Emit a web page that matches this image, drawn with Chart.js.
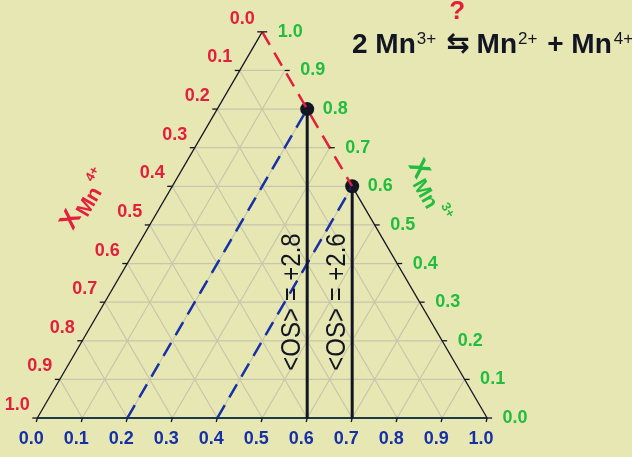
<!DOCTYPE html>
<html>
<head>
<meta charset="utf-8">
<script src="https://cdn.jsdelivr.net/npm/chart.js@4.4.0/dist/chart.umd.min.js"></script>
<style>
html, body { margin: 0; padding: 0; background: #e7e7b3; }
#c { display: block; background: #e7e7b3; }
</style>
</head>
<body>
<canvas id="c" width="632" height="457"></canvas>
<script>
// ternary points are [Mn2+, Mn3+, Mn4+]
const gridSteps = [0.1, 0.2, 0.3, 0.4, 0.5, 0.6, 0.7, 0.8, 0.9];
const tickValues = [0, 0.1, 0.2, 0.3, 0.4, 0.5, 0.6, 0.7, 0.8, 0.9, 1.0];
const tickLabels = ['0.0', '0.1', '0.2', '0.3', '0.4', '0.5', '0.6', '0.7', '0.8', '0.9', '1.0'];

const dotPoints = [[0.2, 0.8, 0], [0.4, 0.6, 0]];
const redDashLine = [[0, 1, 0], [0.4, 0.6, 0]];
const blueDashLines = [
    [[0.2, 0, 0.8], [0.2, 0.8, 0]],
    [[0.4, 0, 0.6], [0.4, 0.6, 0]]
];
const osLines = [
    [[0.2, 0.8, 0], [0.6, 0, 0.4]],
    [[0.4, 0.6, 0], [0.7, 0, 0.3]]
];
const osLabels = ['<OS> = +2.8', '<OS> = +2.6'];
const edges = [
    [[0, 0, 1], [0, 1, 0]],
    [[0.4, 0.6, 0], [1, 0, 0]]
];
const baseEdge = [[0, 0, 1], [1, 0, 0]];

const RED = '#e2203c', GREEN = '#22bd3e', BLUE = '#1630a6', INK = '#121622';
const SQ = Math.sqrt(3) / 2;

function tern(p) {
    return { x: p[0] + p[1] / 2, y: p[1] * SQ };
}

function seg(pts, color, width, dash, order) {
    return {
        data: pts.map(tern),
        showLine: true,
        pointRadius: 0,
        borderColor: color,
        borderWidth: width,
        borderDash: dash || [],
        fill: false,
        order: order
    };
}

let datasets = [];
//grid
for (const k of gridSteps) {
    datasets.push(seg([[0, k, 1 - k], [1 - k, k, 0]], '#c6c6ac', 1.2, null, 20));
    datasets.push(seg([[k, 0, 1 - k], [k, 1 - k, 0]], '#c6c6ac', 1.2, null, 20));
    datasets.push(seg([[1 - k, 0, k], [0, 1 - k, k]], '#c6c6ac', 1.2, null, 20));
}
//edges
for (const e of edges) datasets.push(seg(e, INK, 1.3, null, 15));
datasets.push(seg(baseEdge, '#1c3a48', 2, null, 15));
//dots
datasets.push({
    data: dotPoints.map(tern),
    pointRadius: 7,
    pointBackgroundColor: INK,
    pointBorderWidth: 0,
    showLine: false,
    order: 12
});
//dashed lines
datasets.push(seg(redDashLine, RED, 2.5, [15, 9], 5));
for (const l of blueDashLines) datasets.push(seg(l, BLUE, 2.5, [15, 9], 5));
//constant OS lines
for (const l of osLines) datasets.push(seg(l, INK, 3, null, 4));

const labelsPlugin = {
    id: 'ternLabels',
    afterDatasetsDraw(chart) {
        const ctx = chart.ctx;
        const sx = chart.scales.x, sy = chart.scales.y;
        function px(p) {
            const q = tern(p);
            return [sx.getPixelForValue(q.x), sy.getPixelForValue(q.y)];
        }
        ctx.save();
        ctx.lineWidth = 1.3;
        ctx.strokeStyle = INK;
        ctx.font = "bold 18px 'Liberation Sans', Arial, sans-serif";
        ctx.textAlign = 'center';
        ctx.textBaseline = 'middle';
        tickValues.forEach((v, i) => {
            // left axis, Mn4+
            let [a, b] = px([0, 1 - v, v]);
            ctx.beginPath(); ctx.moveTo(a, b); ctx.lineTo(a - 5, b); ctx.stroke();
            ctx.fillStyle = RED;
            ctx.fillText(tickLabels[i], a - 20, b - 13);
            // right axis, Mn3+
            [a, b] = px([1 - v, v, 0]);
            ctx.beginPath(); ctx.moveTo(a, b); ctx.lineTo(a + 5, b); ctx.stroke();
            ctx.fillStyle = GREEN;
            ctx.fillText(tickLabels[i], a + 28, b);
            // bottom axis, Mn2+
            [a, b] = px([v, 0, 1 - v]);
            ctx.beginPath(); ctx.moveTo(a, b); ctx.lineTo(a - 1, b + 4); ctx.stroke();
            ctx.fillStyle = BLUE;
            ctx.fillText(tickLabels[i], a - 6, b + 21);
        });

        // OS labels along vertical lines
        ctx.fillStyle = INK;
        ctx.font = "24px 'Liberation Sans', Arial, sans-serif";
        osLines.forEach((l, i) => {
            const [a] = px(l[1]);
            ctx.save();
            ctx.translate(a - 15, 302);
            ctx.rotate(-Math.PI / 2);
            ctx.scale(1, 1.15);
            ctx.fillText(osLabels[i], 0, 0);
            ctx.restore();
        });

        // axis titles
        ctx.textAlign = 'left';
        ctx.textBaseline = 'alphabetic';
        function axisTitle(x0, y0, ang, color, sup) {
            ctx.save();
            ctx.translate(x0, y0);
            ctx.rotate(ang);
            ctx.fillStyle = color;
            ctx.font = "bold 26px 'Liberation Sans', Arial, sans-serif";
            ctx.fillText('X', 0, 0);
            let w = ctx.measureText('X').width + 1;
            ctx.font = "bold 21px 'Liberation Sans', Arial, sans-serif";
            ctx.fillText('Mn', w, 6);
            w += ctx.measureText('Mn').width + 3;
            ctx.font = "bold 13px 'Liberation Sans', Arial, sans-serif";
            ctx.fillText(sup, w, -8);
            ctx.restore();
        }
        axisTitle(73, 231, -Math.PI / 3, RED, '4+');
        axisTitle(408, 165, Math.PI / 3, GREEN, '3+');

        // reaction title
        const big = "bold 28px 'Liberation Sans', Arial, sans-serif";
        const small = "17px 'Liberation Sans', Arial, sans-serif";
        let x = 352;
        const base = 53;
        ctx.fillStyle = INK;
        ctx.font = big; ctx.fillText('2 Mn', x, base); x += ctx.measureText('2 Mn').width + 1;
        ctx.font = small; ctx.fillText('3+', x, base - 9); x += ctx.measureText('3+').width + 10;
        ctx.font = "bold 28px 'DejaVu Sans', sans-serif"; ctx.fillText('\u21C6', x, base - 1);
        const arrowX = x; x += ctx.measureText('\u21C6').width + 7;
        ctx.font = big; ctx.fillText('Mn', x, base); x += ctx.measureText('Mn').width + 1;
        ctx.font = small; ctx.fillText('2+', x, base - 9); x += ctx.measureText('2+').width + 2;
        ctx.font = big; ctx.fillText(' + Mn', x, base); x += ctx.measureText(' + Mn').width + 2;
        ctx.font = small; ctx.fillText('4+', x, base - 9);
        ctx.fillStyle = RED;
        ctx.font = "bold 26px 'Liberation Sans', Arial, sans-serif";
        ctx.fillText('?', arrowX + 3, 19);
        ctx.restore();
    }
};

new Chart(document.getElementById('c').getContext('2d'), {
    type: 'scatter',
    data: { datasets: datasets },
    options: {
        responsive: false,
        animation: false,
        layout: { padding: 0 },
        plugins: { legend: { display: false }, tooltip: { enabled: false } },
        scales: {
            x: { type: 'linear', display: false, min: -31 / 460, max: 601 / 460 },
            y: { type: 'linear', display: false, min: -33 / 460, max: 424 / 460 }
        }
    },
    plugins: [labelsPlugin]
});
</script>
</body>
</html>
